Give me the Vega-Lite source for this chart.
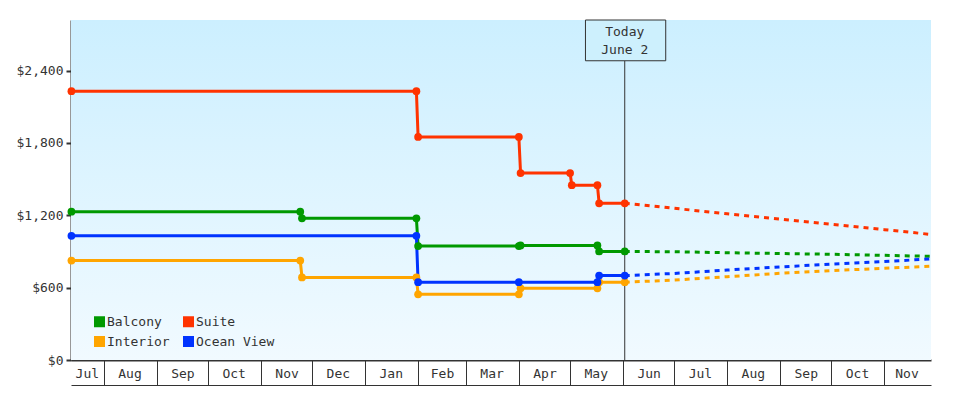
{
  "$schema": "https://vega.github.io/schema/vega-lite/v6.json",
  "width": 860,
  "height": 340,
  "autosize": {"type": "none"},
  "padding": {"left": 71, "top": 20, "right": 49, "bottom": 40},
  "background": "white",
  "config": {
    "view": {"stroke": null},
    "font": "DejaVu Sans Mono",
    "axis": {"labelFont": "DejaVu Sans Mono", "labelFontSize": 13, "labelColor": "#333333", "domainColor": "#333333", "tickColor": "#333333", "grid": false}
  },
  "datasets": {
    "prices": [
      {"cabin": "Suite", "kind": "actual", "date": "2022-07-13T00:00:00", "price": 2230},
      {"cabin": "Suite", "kind": "actual", "date": "2023-01-31T00:00:00", "price": 2230},
      {"cabin": "Suite", "kind": "actual", "date": "2023-02-01T00:00:00", "price": 1850},
      {"cabin": "Suite", "kind": "actual", "date": "2023-04-01T00:00:00", "price": 1850},
      {"cabin": "Suite", "kind": "actual", "date": "2023-04-02T00:00:00", "price": 1550},
      {"cabin": "Suite", "kind": "actual", "date": "2023-05-01T00:00:00", "price": 1550},
      {"cabin": "Suite", "kind": "actual", "date": "2023-05-02T00:00:00", "price": 1450},
      {"cabin": "Suite", "kind": "actual", "date": "2023-05-17T00:00:00", "price": 1450},
      {"cabin": "Suite", "kind": "actual", "date": "2023-05-18T00:00:00", "price": 1300},
      {"cabin": "Suite", "kind": "actual", "date": "2023-06-02T00:00:00", "price": 1300},
      {"cabin": "Suite", "kind": "forecast", "date": "2023-06-02T00:00:00", "price": 1300},
      {"cabin": "Suite", "kind": "forecast", "date": "2023-07-01T00:00:00", "price": 1258},
      {"cabin": "Suite", "kind": "forecast", "date": "2023-08-01T00:00:00", "price": 1213},
      {"cabin": "Suite", "kind": "forecast", "date": "2023-09-01T00:00:00", "price": 1169},
      {"cabin": "Suite", "kind": "forecast", "date": "2023-10-01T00:00:00", "price": 1126},
      {"cabin": "Suite", "kind": "forecast", "date": "2023-11-01T00:00:00", "price": 1081},
      {"cabin": "Suite", "kind": "forecast", "date": "2023-11-28T00:00:00", "price": 1042},

      {"cabin": "Balcony", "kind": "actual", "date": "2022-07-13T00:00:00", "price": 1230},
      {"cabin": "Balcony", "kind": "actual", "date": "2022-11-24T00:00:00", "price": 1230},
      {"cabin": "Balcony", "kind": "actual", "date": "2022-11-25T00:00:00", "price": 1175},
      {"cabin": "Balcony", "kind": "actual", "date": "2023-01-31T00:00:00", "price": 1175},
      {"cabin": "Balcony", "kind": "actual", "date": "2023-02-01T00:00:00", "price": 945},
      {"cabin": "Balcony", "kind": "actual", "date": "2023-04-01T00:00:00", "price": 945},
      {"cabin": "Balcony", "kind": "actual", "date": "2023-04-02T00:00:00", "price": 950},
      {"cabin": "Balcony", "kind": "actual", "date": "2023-05-17T00:00:00", "price": 950},
      {"cabin": "Balcony", "kind": "actual", "date": "2023-05-18T00:00:00", "price": 900},
      {"cabin": "Balcony", "kind": "actual", "date": "2023-06-02T00:00:00", "price": 900},
      {"cabin": "Balcony", "kind": "forecast", "date": "2023-06-02T00:00:00", "price": 900},
      {"cabin": "Balcony", "kind": "forecast", "date": "2023-07-01T00:00:00", "price": 898},
      {"cabin": "Balcony", "kind": "forecast", "date": "2023-08-01T00:00:00", "price": 890},
      {"cabin": "Balcony", "kind": "forecast", "date": "2023-09-01T00:00:00", "price": 883},
      {"cabin": "Balcony", "kind": "forecast", "date": "2023-10-01T00:00:00", "price": 877},
      {"cabin": "Balcony", "kind": "forecast", "date": "2023-11-01T00:00:00", "price": 868},
      {"cabin": "Balcony", "kind": "forecast", "date": "2023-11-28T00:00:00", "price": 860},

      {"cabin": "Interior", "kind": "actual", "date": "2022-07-13T00:00:00", "price": 825},
      {"cabin": "Interior", "kind": "actual", "date": "2022-11-24T00:00:00", "price": 825},
      {"cabin": "Interior", "kind": "actual", "date": "2022-11-25T00:00:00", "price": 685},
      {"cabin": "Interior", "kind": "actual", "date": "2023-01-31T00:00:00", "price": 685},
      {"cabin": "Interior", "kind": "actual", "date": "2023-02-01T00:00:00", "price": 545},
      {"cabin": "Interior", "kind": "actual", "date": "2023-04-01T00:00:00", "price": 545},
      {"cabin": "Interior", "kind": "actual", "date": "2023-04-02T00:00:00", "price": 595},
      {"cabin": "Interior", "kind": "actual", "date": "2023-05-17T00:00:00", "price": 595},
      {"cabin": "Interior", "kind": "actual", "date": "2023-05-18T00:00:00", "price": 645},
      {"cabin": "Interior", "kind": "actual", "date": "2023-06-02T00:00:00", "price": 645},
      {"cabin": "Interior", "kind": "forecast", "date": "2023-06-02T00:00:00", "price": 645},
      {"cabin": "Interior", "kind": "forecast", "date": "2023-07-01T00:00:00", "price": 663},
      {"cabin": "Interior", "kind": "forecast", "date": "2023-08-01T00:00:00", "price": 691},
      {"cabin": "Interior", "kind": "forecast", "date": "2023-09-01T00:00:00", "price": 719},
      {"cabin": "Interior", "kind": "forecast", "date": "2023-10-01T00:00:00", "price": 741},
      {"cabin": "Interior", "kind": "forecast", "date": "2023-11-01T00:00:00", "price": 761},
      {"cabin": "Interior", "kind": "forecast", "date": "2023-11-28T00:00:00", "price": 777},

      {"cabin": "Ocean View", "kind": "actual", "date": "2022-07-13T00:00:00", "price": 1030},
      {"cabin": "Ocean View", "kind": "actual", "date": "2023-01-31T00:00:00", "price": 1030},
      {"cabin": "Ocean View", "kind": "actual", "date": "2023-02-01T00:00:00", "price": 645},
      {"cabin": "Ocean View", "kind": "actual", "date": "2023-04-01T00:00:00", "price": 645},
      {"cabin": "Ocean View", "kind": "actual", "date": "2023-05-17T00:00:00", "price": 645},
      {"cabin": "Ocean View", "kind": "actual", "date": "2023-05-18T00:00:00", "price": 700},
      {"cabin": "Ocean View", "kind": "actual", "date": "2023-06-02T00:00:00", "price": 700},
      {"cabin": "Ocean View", "kind": "forecast", "date": "2023-06-02T00:00:00", "price": 700},
      {"cabin": "Ocean View", "kind": "forecast", "date": "2023-07-01T00:00:00", "price": 718},
      {"cabin": "Ocean View", "kind": "forecast", "date": "2023-08-01T00:00:00", "price": 746},
      {"cabin": "Ocean View", "kind": "forecast", "date": "2023-09-01T00:00:00", "price": 772},
      {"cabin": "Ocean View", "kind": "forecast", "date": "2023-10-01T00:00:00", "price": 795},
      {"cabin": "Ocean View", "kind": "forecast", "date": "2023-11-01T00:00:00", "price": 817},
      {"cabin": "Ocean View", "kind": "forecast", "date": "2023-11-28T00:00:00", "price": 838}
    ]
  },
  "layer": [
    {
      "data": {"values": [{"panel": "plot"}]},
      "mark": {"type": "rect", "fill": {"gradient": "linear", "x1": 0, "y1": 0, "x2": 0, "y2": 1, "stops": [{"offset": 0, "color": "#ccefff"}, {"offset": 1, "color": "#f1faff"}]}},
      "encoding": {}
    },
    {
      "data": {"values": [{"label": "Today"}]},
      "mark": {"type": "rule", "color": "#333333", "strokeWidth": 1},
      "encoding": {
        "x": {"datum": {"year": 2023, "month": 6, "date": 2}, "type": "temporal",
          "axis": {"orient": "bottom", "title": null, "offset": 25, "domainWidth": 1, "ticks": false, "tickSize": 0, "labelPadding": -8, "labelBaseline": "alphabetic", "labelFlush": false, "labelOverlap": false, "labelBound": false, "format": "%b", "formatType": "time",
            "values": [
              {"year": 2022, "month": 7, "date": 22},
              {"year": 2022, "month": 8, "date": 16},
              {"year": 2022, "month": 9, "date": 16},
              {"year": 2022, "month": 10, "date": 16},
              {"year": 2022, "month": 11, "date": 16},
              {"year": 2022, "month": 12, "date": 16},
              {"year": 2023, "month": 1, "date": 16},
              {"year": 2023, "month": 2, "date": 15},
              {"year": 2023, "month": 3, "date": 16},
              {"year": 2023, "month": 4, "date": 16},
              {"year": 2023, "month": 5, "date": 16},
              {"year": 2023, "month": 6, "date": 16},
              {"year": 2023, "month": 7, "date": 16},
              {"year": 2023, "month": 8, "date": 16},
              {"year": 2023, "month": 9, "date": 16},
              {"year": 2023, "month": 10, "date": 16},
              {"year": 2023, "month": 11, "date": 14}
            ]}},
        "y": {"datum": 0, "type": "quantitative"},
        "y2": {"datum": 2482}
      }
    },
    {
      "data": {"name": "prices"},
      "transform": [{"filter": "datum.kind === 'actual'"}],
      "mark": {"type": "line", "strokeWidth": 3, "interpolate": "linear"},
      "encoding": {
        "x": {"field": "date", "type": "temporal",
          "scale": {"domain": [{"year": 2022, "month": 7, "date": 12, "hours": 18}, {"year": 2023, "month": 11, "date": 28, "hours": 8}], "nice": false},
          "axis": {"orient": "bottom", "title": null, "labels": false, "tickSize": 25, "tickWidth": 1, "domainWidth": 2,
            "values": [
              {"year": 2022, "month": 8, "date": 1},
              {"year": 2022, "month": 9, "date": 1},
              {"year": 2022, "month": 10, "date": 1},
              {"year": 2022, "month": 11, "date": 1},
              {"year": 2022, "month": 12, "date": 1},
              {"year": 2023, "month": 1, "date": 1},
              {"year": 2023, "month": 2, "date": 1},
              {"year": 2023, "month": 3, "date": 1},
              {"year": 2023, "month": 4, "date": 1},
              {"year": 2023, "month": 5, "date": 1},
              {"year": 2023, "month": 6, "date": 1},
              {"year": 2023, "month": 7, "date": 1},
              {"year": 2023, "month": 8, "date": 1},
              {"year": 2023, "month": 9, "date": 1},
              {"year": 2023, "month": 10, "date": 1},
              {"year": 2023, "month": 11, "date": 1}
            ]}},
        "y": {"field": "price", "type": "quantitative",
          "scale": {"domain": [0, 2820], "nice": false, "zero": true},
          "axis": {"title": null, "values": [0, 600, 1200, 1800, 2400], "format": "$,.0f", "tickSize": 5, "tickWidth": 2, "domainWidth": 2, "labelPadding": 3}},
        "color": {"field": "cabin", "type": "nominal",
          "scale": {"domain": ["Balcony", "Suite", "Interior", "Ocean View"], "range": ["#009900", "#ff3300", "#ffa500", "#0033ff"]}}
      }
    },
    {
      "data": {"name": "prices"},
      "transform": [{"filter": "datum.kind === 'forecast'"}],
      "mark": {"type": "line", "strokeWidth": 3, "strokeDash": [5, 5], "interpolate": "linear"},
      "encoding": {
        "x": {"field": "date", "type": "temporal", "axis": null},
        "y": {"field": "price", "type": "quantitative"},
        "color": {"field": "cabin", "type": "nominal"}
      }
    },
    {
      "data": {"name": "prices"},
      "transform": [{"filter": "datum.kind === 'actual'"}],
      "mark": {"type": "circle", "size": 60, "opacity": 1},
      "encoding": {
        "x": {"field": "date", "type": "temporal", "axis": null},
        "y": {"field": "price", "type": "quantitative"},
        "color": {"field": "cabin", "type": "nominal",
          "legend": {"title": null, "orient": "none", "legendX": 22, "legendY": 295, "direction": "horizontal", "columns": 2, "symbolType": "square", "symbolSize": 121, "symbolStrokeWidth": 0, "labelFont": "DejaVu Sans Mono", "labelFontSize": 13, "labelColor": "#333333", "labelOffset": 1, "rowPadding": 6, "columnPadding": 12, "padding": 0}}
      }
    },
    {
      "data": {"values": [{"label": "Today"}]},
      "mark": {"type": "rect", "fill": "#cdf0fd", "stroke": "#333333", "strokeWidth": 1},
      "encoding": {
        "x": {"datum": {"year": 2023, "month": 5, "date": 10}, "type": "temporal", "axis": null},
        "x2": {"datum": {"year": 2023, "month": 6, "date": 26}},
        "y": {"datum": 2482, "type": "quantitative"},
        "y2": {"datum": 2820}
      }
    },
    {
      "data": {"values": [{"label": "Today"}]},
      "mark": {"type": "text", "text": ["Today", "June 2"], "lineHeight": 18, "font": "DejaVu Sans Mono", "fontSize": 13, "color": "#333333", "align": "center", "baseline": "middle"},
      "encoding": {
        "x": {"datum": {"year": 2023, "month": 6, "date": 2}, "type": "temporal", "axis": null},
        "y": {"datum": 2722, "type": "quantitative"}
      }
    }
  ],
  "resolve": {"axis": {"x": "independent"}}
}
